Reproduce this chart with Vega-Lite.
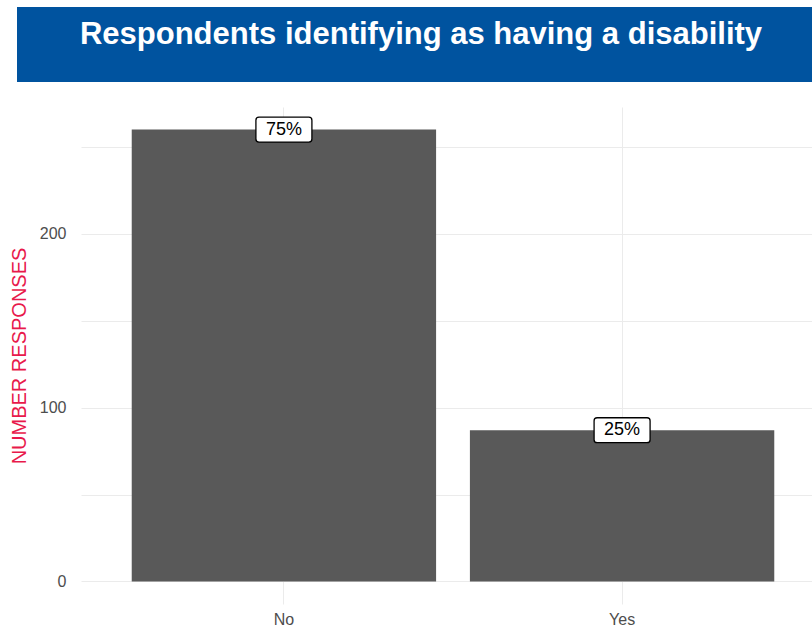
{
  "$schema": "https://vega.github.io/schema/vega-lite/v6.json",
  "padding": {"left": 9, "top": 7, "right": 0, "bottom": 0},
  "background": "white",
  "spacing": 25,
  "config": {
    "font": "Liberation Sans",
    "view": {"stroke": null}
  },
  "vconcat": [
    {
      "width": 808,
      "height": 75,
      "view": {"fill": "#00539f", "stroke": null},
      "data": {"values": [{"title": "Respondents identifying as having a disability"}]},
      "mark": {"type": "text", "color": "white", "fontSize": 31, "fontWeight": "bold", "font": "Liberation Sans", "baseline": "alphabetic", "align": "center", "dy": -1},
      "encoding": {"text": {"field": "title", "type": "nominal"}}
    },
    {
      "width": 808,
      "height": 497,
      "data": {"values": [
        {"answer": "No", "count": 260, "pct": "75%"},
        {"answer": "Yes", "count": 87, "pct": "25%"}
      ]},
      "encoding": {
        "x": {
          "field": "answer", "type": "nominal",
          "scale": {"paddingInner": 0.1, "paddingOuter": 0.15, "range": [64, 808]},
          "axis": {"title": null, "labelAngle": 0, "labelFontSize": 16, "labelColor": "#4d4d4d", "labelPadding": 7, "ticks": false, "domain": false, "grid": true, "bandPosition": 0.5, "gridColor": "#ebebeb", "gridWidth": 1}
        },
        "y": {
          "field": "count", "type": "quantitative",
          "scale": {"domain": [-13, 273], "nice": false, "zero": false},
          "axis": {"title": "NUMBER RESPONSES", "titleColor": "#e8194b", "titleFontSize": 20, "titleFontWeight": "normal", "titlePadding": 10, "offset": -64,
                   "values": [0, 50, 100, 150, 200, 250], "labelExpr": "datum.value % 100 === 0 ? datum.label : ''",
                   "labelFontSize": 16, "labelColor": "#4d4d4d", "labelPadding": 15, "ticks": false, "domain": false, "gridColor": "#ebebeb", "gridWidth": 1}
        }
      },
      "layer": [
        {"mark": {"type": "bar", "color": "#595959"}},
        {"mark": {"type": "point", "filled": true, "fill": "white", "stroke": "black", "strokeWidth": 1.3, "opacity": 1, "size": 3136,
                  "shape": "M-0.89,-0.446 L0.89,-0.446 Q1,-0.446 1,-0.336 L1,0.336 Q1,0.446 0.89,0.446 L-0.89,0.446 Q-1,0.446 -1,0.336 L-1,-0.336 Q-1,-0.446 -0.89,-0.446 Z"}},
        {"mark": {"type": "text", "fontSize": 18, "color": "black", "baseline": "middle", "align": "center"},
         "encoding": {"text": {"field": "pct", "type": "nominal"}}}
      ]
    }
  ]
}
